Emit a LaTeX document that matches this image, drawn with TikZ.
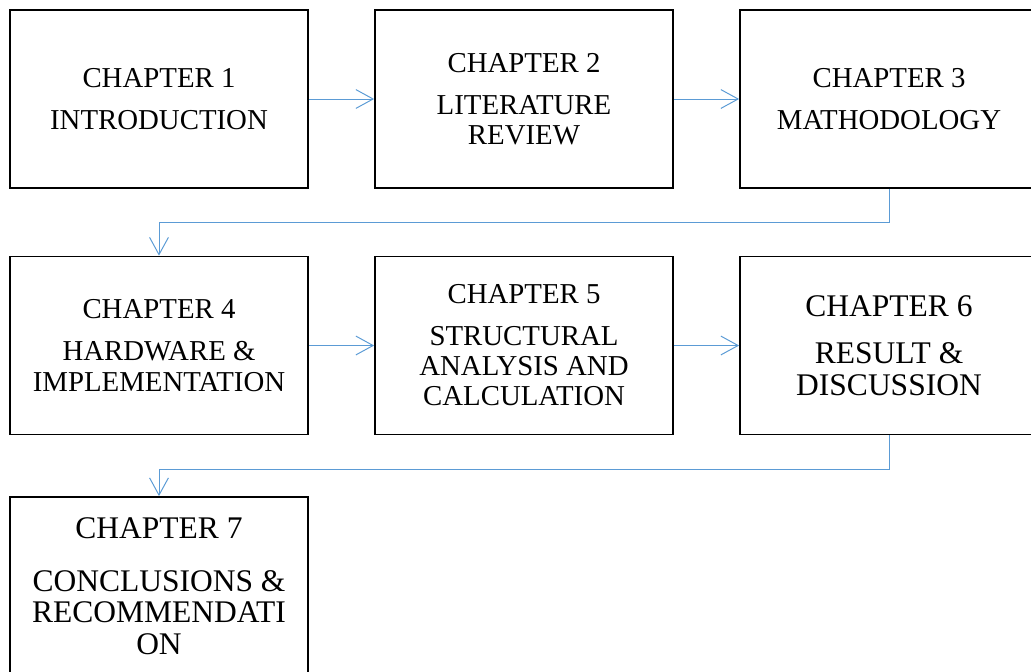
\documentclass[tikz,border=0pt]{standalone}
\usepackage{fontspec}
\setmainfont{Liberation Serif}
\usetikzlibrary{arrows.meta}
\definecolor{linkblue}{HTML}{5B9BD5}

\tikzset{
  chap/.style={draw, line width=1.2pt, minimum width=7.45cm, minimum height=4.45cm,
    align=center, inner sep=0pt, font=\fontsize{20.5}{21.5}\selectfont},
  bigchap/.style={chap, font=\fontsize{22.4}{22.5}\selectfont},
  link/.style={draw=linkblue, line width=0.7pt,
    -{Straight Barb[length=4.3mm,width=4.7mm]}}
}

\begin{document}
\begin{tikzpicture}[x=0.025cm, y=-0.025cm]
  \useasboundingbox (0,0) rectangle (1031,671);

  \node[chap] (c-1) at (159,99) {CHAPTER 1\\[8.5pt]INTRODUCTION};
  \node[chap] (c-2) at (524,99) {CHAPTER 2\\[8.5pt]LITERATURE\\REVIEW};
  \node[chap] (c-3) at (889,99) {CHAPTER 3\\[8.5pt]MATHODOLOGY};

  \node[chap] (c-4) at (159,345.5) {CHAPTER 4\\[8.5pt]HARDWARE \&\\IMPLEMENTATION};
  \node[chap] (c-5) at (524,345.5) {CHAPTER 5\\[8pt]STRUCTURAL\\ANALYSIS AND\\CALCULATION};
  \node[bigchap] (c-6) at (889,345.5) {CHAPTER 6\\[11pt]RESULT \&\\DISCUSSION};

  \node[bigchap] (c-7) at (159,586) {CHAPTER 7\\[15pt]CONCLUSIONS \&\\RECOMMENDATI\\ON};

  \foreach \from/\to in {1/2, 2/3, 4/5, 5/6} {
    \draw[link] (c-\from) -- (c-\to);
  }

  \draw[link] (c-3.south) -- ++(0,34) -| (c-4.north);
  \draw[link] (c-6.south) -- ++(0,34) -| (c-7.north);

\end{tikzpicture}
\end{document}
